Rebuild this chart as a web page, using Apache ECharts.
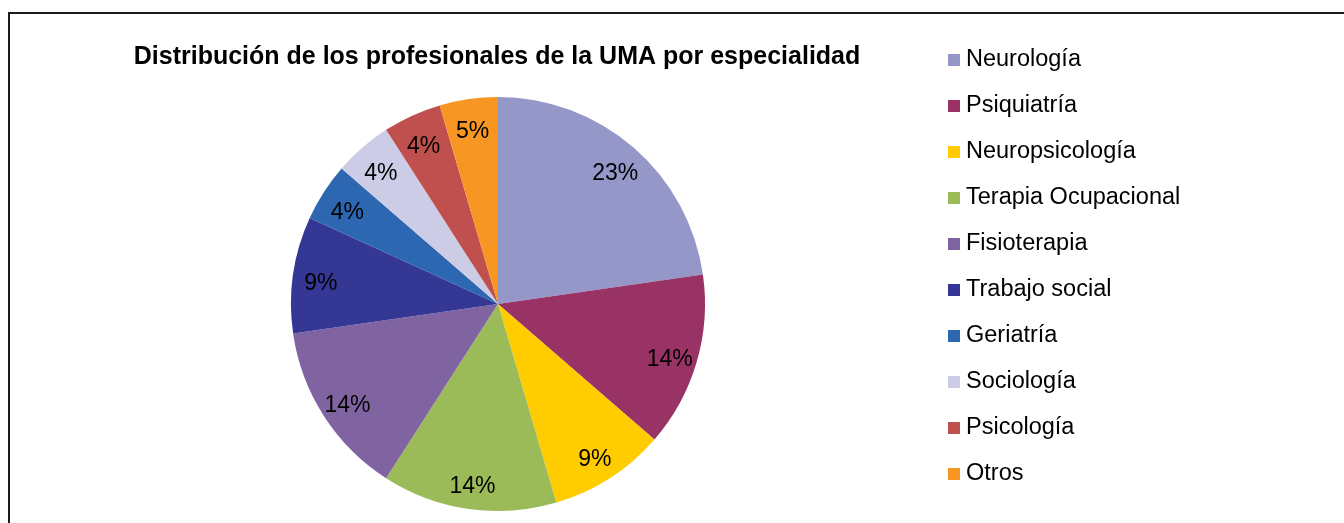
<!DOCTYPE html>
<html>
<head>
<meta charset="utf-8">
<script src="https://cdn.jsdelivr.net/npm/echarts@6/dist/echarts.min.js"></script>
<style>
  html, body { margin: 0; padding: 0; background: #fff; }
  #pie { width: 1344px; height: 523px; }
</style>
</head>
<body>
<div id="pie"></div>
<script>
const especialidades = ['Neurología', 'Psiquiatría', 'Neuropsicología', 'Terapia Ocupacional', 'Fisioterapia',
    'Trabajo social', 'Geriatría', 'Sociología', 'Psicología', 'Otros']
// número de profesionales (estimado por el tamaño de cada sector)
const profesionales = [5, 3, 2, 3, 3, 2, 1, 1, 1, 1]
// etiquetas tal como aparecen en el gráfico
const etiquetas = ['23%', '14%', '9%', '14%', '14%', '9%', '4%', '4%', '4%', '5%']
const colores = ['#9597C9', '#993366', '#FFCC00', '#9BBB59', '#8064A2',
    '#343794', '#2E67B1', '#CDCCE6', '#C0504D', '#F79622']

const fuente = '"Liberation Sans", Arial, sans-serif'

function initPieChart() {
    const myChart = echarts.init(document.getElementById('pie'))

    const datos = especialidades.map((name, i) => {
        return { name: name, value: profesionales[i] }
    })

    const option = {
        backgroundColor: '#fff',
        color: colores,
        animation: false,
        title: {
            text: 'Distribución de los profesionales de la UMA por especialidad',
            left: 497,
            top: 45,
            textAlign: 'center',
            padding: 0,
            textStyle: {
                fontFamily: fuente,
                fontSize: 25,
                fontWeight: 'bold',
                color: '#000'
            }
        },
        legend: {
            orient: 'vertical',
            left: 948,
            top: 48,
            padding: 0,
            itemWidth: 12,
            itemHeight: 12,
            itemGap: 22,
            icon: 'rect',
            data: especialidades,
            textStyle: {
                fontFamily: fuente,
                fontSize: 23.5,
                lineHeight: 22,
                color: '#000',
                padding: [0, 0, 0, 1]
            }
        },
        graphic: [
            {
                type: 'rect',
                shape: { x: 9, y: 13, width: 1400, height: 600 },
                style: { fill: 'none', stroke: '#1a1a1a', lineWidth: 2 },
                silent: true
            }
        ],
        series: [
            {
                name: 'Especialidad',
                type: 'pie',
                center: [498, 304],
                radius: [0, 207],
                startAngle: 90,
                clockwise: true,
                label: { show: false },
                labelLine: { show: false },
                emphasis: { disabled: true },
                itemStyle: { borderWidth: 0 },
                data: datos
            },
            {
                // capa solo para las etiquetas, más cerca del borde
                name: 'Etiquetas',
                type: 'pie',
                center: [498, 304],
                radius: [145, 207],
                startAngle: 90,
                clockwise: true,
                silent: true,
                legendHoverLink: false,
                emphasis: { disabled: true },
                itemStyle: { color: 'rgba(0,0,0,0)', borderWidth: 0 },
                label: {
                    show: true,
                    position: 'inside',
                    formatter: p => etiquetas[p.dataIndex],
                    fontFamily: fuente,
                    fontSize: 23,
                    color: '#000'
                },
                labelLayout: { dy: 5 },
                labelLine: { show: false },
                data: datos
            }
        ]
    }

    myChart.setOption(option)
}

initPieChart()
</script>
</body>
</html>
